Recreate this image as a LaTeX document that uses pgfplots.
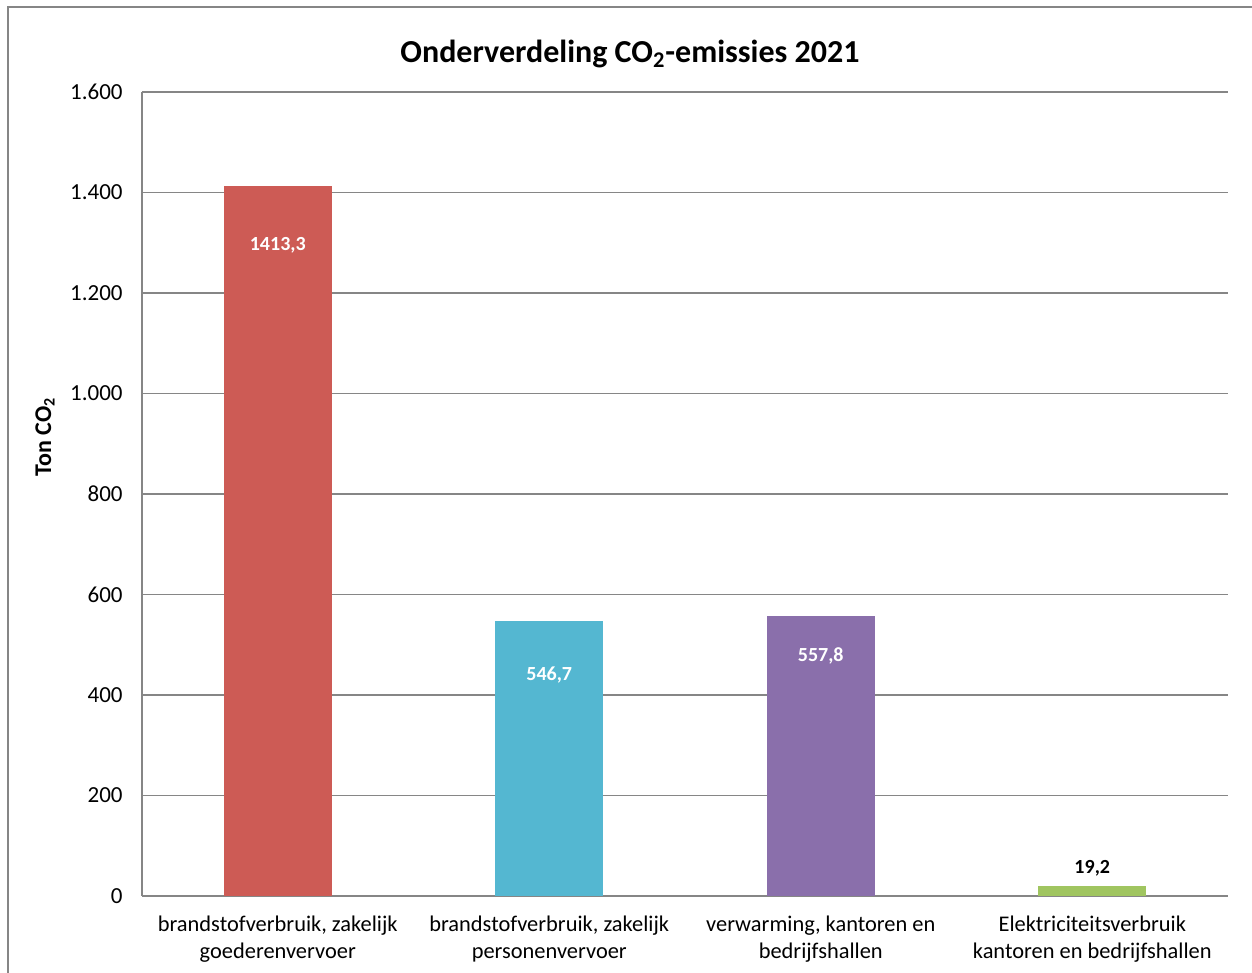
\documentclass[border=0pt]{standalone}
\usepackage{pgfplots}
\pgfplotsset{compat=1.18}
\usepackage{fontspec}
\setmainfont{Carlito}
\definecolor{cred}{RGB}{205,91,85}
\definecolor{ccyan}{RGB}{84,183,209}
\definecolor{cpurple}{RGB}{138,111,171}
\definecolor{cgreen}{RGB}{160,197,96}
\definecolor{gridcol}{RGB}{134,134,134}
\definecolor{framecol}{RGB}{134,134,134}
\begin{document}
\begin{tikzpicture}
\useasboundingbox (0,0) rectangle (626pt,486.5pt);
\draw[framecol, line width=0.8pt] (4pt,-2pt) -- (4pt,483pt) -- (630pt,483pt);
\node[font=\bfseries\fontsize{16}{18}\selectfont] at (315pt,459.5pt) {Onderverdeling CO\textsubscript{2}-emissies 2021};
\node[font=\bfseries\fontsize{12}{14}\selectfont, rotate=90] at (22.5pt,268pt) {Ton CO\textsubscript{2}};
\begin{axis}[
  at={(71pt,38.5pt)}, anchor=south west,
  scale only axis, width=543pt, height=402pt,
  xmin=-0.5, xmax=3.5, ymin=0, ymax=1600,
  ytick={0,200,...,1600},
  xtick={0,1,2,3},
  xticklabels={{brandstofverbruik, zakelijk\\goederenvervoer},{brandstofverbruik, zakelijk\\personenvervoer},{verwarming, kantoren en\\bedrijfshallen},{Elektriciteitsverbruik\\kantoren en bedrijfshallen}},
  xticklabel style={align=center, inner sep=0pt, anchor=north, yshift=-10pt, font=\fontsize{11.2}{13.5}\selectfont},
  yticklabel style={inner sep=0pt, anchor=east, xshift=-9.5pt, font=\fontsize{11.5}{13.5}\selectfont},
  /pgf/number format/assume math mode=true,
  /pgf/number format/.cd, 1000 sep={.}, /pgfplots/.cd,
  major tick length=0pt,
  ymajorgrids, grid style={gridcol, line width=0.8pt},
  axis x line*=bottom, axis y line*=left,
  axis line style={gridcol, line width=0.8pt},
  ybar, bar width=54pt, bar shift=0pt,
  every node near coord/.append style={inner sep=0pt, text depth=0pt, font=\bfseries\fontsize{10}{12}\selectfont},
  nodes near coords={\pgfmathprintnumber[fixed,fixed zerofill,precision=1,use comma,1000 sep={}]{\pgfplotspointmeta}},
  clip=false,
]
\addplot[fill=cred, draw=none, nodes near coords style={text=white, yshift=-32.7pt}] coordinates {(0,1413.3)};
\addplot[fill=ccyan, draw=none, nodes near coords style={text=white, yshift=-29.7pt}] coordinates {(1,546.7)};
\addplot[fill=cpurple, draw=none, nodes near coords style={text=white, yshift=-23.2pt}] coordinates {(2,557.8)};
\addplot[fill=cgreen, draw=none, nodes near coords style={text=black, yshift=6.3pt}] coordinates {(3,19.2)};
\end{axis}
\end{tikzpicture}
\end{document}
